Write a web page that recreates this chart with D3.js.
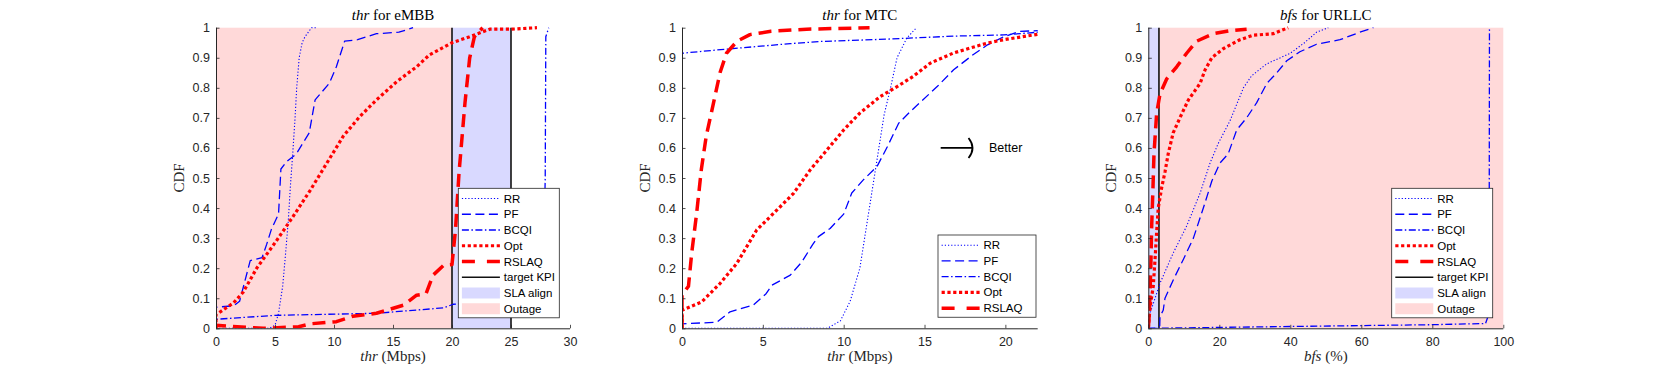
<!DOCTYPE html>
<html><head><meta charset="utf-8">
<script src="https://cdn.jsdelivr.net/npm/d3@7/dist/d3.min.js"></script>
<style>body{margin:0;background:#fff}svg{display:block}</style>
</head><body><svg id="c" width="1661" height="369"></svg>
<script>
// ---------- shared ----------
const yTicks = [0,0.1,0.2,0.3,0.4,0.5,0.6,0.7,0.8,0.9,1];
const yTickLabels = ["0","0.1","0.2","0.3","0.4","0.5","0.6","0.7","0.8","0.9","1"];
const seriesNames = ["RR","PF","BCQI","Opt","RSLAQ"];

// ---------- eMBB (thr, Mbps) ----------
const embbXTicks = [0,5,10,15,20,25,30];
const embbRR = [[0,0],[4.5,0],[5,0.01],[5.3,0.05],[5.65,0.14],[5.9,0.25],[6.13,0.36],[6.3,0.47],[6.5,0.58],[6.7,0.7],[6.84,0.8],[7.05,0.9],[7.3,0.95],[7.54,0.97],[8.1,1.0],[8.5,1.0]];
const embbPF = [[0,0],[0,0.07],[1.5,0.075],[2.0,0.09],[2.4,0.15],[2.9,0.225],[3.9,0.235],[4.3,0.28],[4.7,0.33],[5.3,0.38],[5.5,0.53],[6.0,0.555],[6.8,0.58],[7.9,0.65],[8.4,0.76],[9.6,0.815],[10.2,0.87],[10.9,0.955],[12,0.96],[13.6,0.98],[15.5,0.985],[16.7,1.0]];
const embbBCQI = [[0,0],[0,0.03],[5,0.043],[13.6,0.05],[19.3,0.068],[20.1,0.08],[24,0.09],[27.7,0.1],[27.9,0.5],[27.95,0.97],[28.2,1.0]];
const embbOpt = [[0,0.02],[0,0.045],[1.5,0.085],[2.3,0.12],[3.45,0.2],[5.1,0.29],[6.5,0.37],[8,0.46],[9.4,0.55],[10.8,0.64],[12.2,0.705],[13.6,0.76],[15.3,0.82],[17,0.87],[18.1,0.91],[20,0.95],[21.5,0.97],[23.2,0.995],[25,0.995],[27.2,1.0]];
const embbRSLAQ = [[0,0],[0,0.01],[4,0.0],[7,0.005],[8,0.015],[10.2,0.022],[11.6,0.04],[13.6,0.05],[15.9,0.077],[17,0.11],[17.8,0.115],[18.4,0.177],[19.3,0.21],[20,0.212],[20.3,0.33],[20.6,0.52],[21.1,0.75],[21.5,0.9],[21.9,0.97],[22.6,1.0]];
const embbOutage = [0,20];
const embbSLA = [20,25];
const embbKPI = [20,25];

// ---------- MTC (thr, Mbps) ----------
const mtcXTicks = [0,5,10,15,20];
const mtcRR = [[0,0],[9,0],[9.8,0.025],[10.4,0.09],[11,0.2],[11.5,0.37],[12.06,0.56],[12.5,0.71],[12.9,0.8],[13.3,0.9],[13.9,0.965],[14.5,1.0]];
const mtcPF = [[0,0],[0,0.015],[2.15,0.02],[2.97,0.055],[4.4,0.077],[5.2,0.115],[5.55,0.143],[6.7,0.177],[7.4,0.22],[8.1,0.28],[8.44,0.305],[9.16,0.332],[10.0,0.38],[10.5,0.45],[11.2,0.493],[12.06,0.538],[12.7,0.604],[13.4,0.682],[14.1,0.72],[14.7,0.75],[15.8,0.805],[16.8,0.86],[18.0,0.91],[18.9,0.943],[19.9,0.97],[20.9,0.988],[22,0.99]];
const mtcBCQI = [[0,0],[0,0.915],[2.8,0.929],[6.7,0.947],[8.5,0.954],[12.7,0.962],[16.8,0.972],[19.9,0.976],[22,0.985]];
const mtcOpt = [[0,0],[0,0.06],[1.22,0.088],[2.35,0.149],[3.39,0.216],[4.62,0.327],[5.86,0.393],[6.9,0.449],[7.93,0.527],[8.96,0.593],[10.0,0.66],[11.0,0.716],[12.26,0.771],[13.3,0.804],[14.3,0.838],[15.35,0.882],[16.8,0.916],[17.8,0.932],[18.9,0.949],[19.9,0.96],[22,0.978]];
const mtcRSLAQ = [[0,0],[0,0.11],[0.4,0.14],[0.6,0.25],[0.9,0.38],[1.2,0.53],[1.5,0.64],[1.95,0.75],[2.35,0.85],[2.75,0.915],[3.4,0.955],[4.2,0.977],[5.5,0.988],[7.7,0.995],[11.6,1.0]];
const mtcArrow = [[16,0.6],[18,0.6]];
const mtcArrowText = "Better";

// ---------- URLLC (bfs, %) ----------
const urllcXTicks = [0,20,40,60,80,100];
const urllcRR = [[0,0],[0.5,0.05],[1.9,0.1],[3.3,0.15],[7,0.25],[10.8,0.34],[14.6,0.45],[17.4,0.55],[19.7,0.615],[23,0.69],[26.8,0.8],[29.1,0.84],[33.4,0.88],[40,0.915],[44,0.95],[47.4,0.985],[50.7,1.0]];
const urllcPF = [[0,0],[3.2,0],[3.3,0.04],[4.2,0.06],[4.7,0.1],[7,0.16],[9.9,0.23],[12.7,0.3],[15.5,0.4],[17.9,0.49],[20.2,0.55],[22.5,0.58],[24.9,0.66],[27.7,0.7],[30.5,0.75],[33.4,0.815],[36.2,0.85],[39,0.89],[42.7,0.92],[47.4,0.945],[54,0.96],[59.6,0.985],[63.4,1.0]];
const urllcBCQI = [[0,0],[20,0.003],[40,0.006],[60,0.009],[80,0.012],[95,0.016],[96,0.05],[96.1,1.0]];
const urllcOpt = [[0,0],[0.5,0.07],[1.4,0.14],[1.9,0.23],[2.35,0.32],[2.8,0.4],[3.8,0.47],[4.7,0.52],[5.6,0.58],[7,0.65],[8.9,0.7],[11.3,0.76],[14.6,0.815],[16,0.86],[17.9,0.9],[21.1,0.93],[25.8,0.96],[29.6,0.975],[35.2,0.98],[39.4,1.0]];
const urllcRSLAQ = [[0,0],[0.3,0.05],[0.7,0.2],[0.95,0.34],[1.3,0.46],[1.6,0.58],[2.35,0.715],[3.3,0.78],[5.2,0.83],[8,0.87],[10.8,0.915],[13.6,0.955],[18.3,0.98],[23,0.99],[27.7,0.995]];
const urllcSLA = [0,3];
const urllcOutage = [3,100];
const urllcKPI = [3];

// ---------- styles ----------
const styles = {
  RR:    {color:"#0000ff", width:1.1, dash:"1.2,2",        ldash:"1.2,2"},
  PF:    {color:"#0000ff", width:1.3, dash:"9,4.5",        ldash:"9,4.5"},
  BCQI:  {color:"#0000ff", width:1.3, dash:"7,2.5,1.5,2.5", ldash:"7,2.5,1.5,2.5"},
  Opt:   {color:"#ff0000", width:3.2, dash:"3.2,2.6",      ldash:"3.2,2.6"},
  RSLAQ: {color:"#ff0000", width:3.5, dash:"13,7",         ldash:"13,12"}
};
const OUT_COL = "#ffd9d9", SLA_COL = "#d9d9ff", AX_COL = "#262626";
const SANS = "'Liberation Sans', Arial, Helvetica, sans-serif";
const SERIF = "'Liberation Serif', 'Times New Roman', serif";
const TICK_FS = "12.5px", LEG_FS = "11.5px";

const panels = [
  {left:216, right:570, xmax:30, xTicks:embbXTicks, titleVar:"thr", titleRest:" for eMBB",
   xVar:"thr", xRest:" (Mbps)",
   data:[embbRR,embbPF,embbBCQI,embbOpt,embbRSLAQ],
   outage:embbOutage, sla:embbSLA, kpi:embbKPI,
   legend:{x:458.3, y:188.3, w:101, full:true}},
  {left:682, right:1037.7, xmax:22, xTicks:mtcXTicks, titleVar:"thr", titleRest:" for MTC",
   xVar:"thr", xRest:" (Mbps)",
   data:[mtcRR,mtcPF,mtcBCQI,mtcOpt,mtcRSLAQ],
   legend:{x:938, y:235, w:98, full:false}, arrow:true},
  {left:1148.3, right:1503.3, xmax:100, xTicks:urllcXTicks, titleVar:"bfs", titleRest:" for URLLC",
   xVar:"bfs", xRest:" (%)",
   data:[urllcRR,urllcPF,urllcBCQI,urllcOpt,urllcRSLAQ],
   outage:urllcOutage, sla:urllcSLA, kpi:urllcKPI,
   legend:{x:1391.7, y:188.3, w:101, full:true}}
];

const svg = d3.select("#c");
const TOP = 27.7, BOT = 328.3;

panels.forEach((p, pi) => {
  const x = d3.scaleLinear().domain([0, p.xmax]).range([p.left, p.right]);
  const y = d3.scaleLinear().domain([0, 1]).range([BOT, TOP]);
  const g = svg.append("g");
  const clipId = "clip" + pi;
  svg.append("clipPath").attr("id", clipId).append("rect")
    .attr("x", p.left).attr("y", TOP - 3).attr("width", p.right - p.left + 3).attr("height", BOT - TOP + 3);

  if (p.outage) g.append("rect").attr("x", x(p.outage[0])).attr("y", y(1))
      .attr("width", x(p.outage[1]) - x(p.outage[0])).attr("height", y(0) - y(1)).attr("fill", OUT_COL);
  if (p.sla) g.append("rect").attr("x", x(p.sla[0])).attr("y", y(1))
      .attr("width", x(p.sla[1]) - x(p.sla[0])).attr("height", y(0) - y(1)).attr("fill", SLA_COL);
  if (p.kpi) p.kpi.forEach(k => g.append("line").attr("x1", x(k)).attr("x2", x(k))
      .attr("y1", y(0)).attr("y2", y(1)).attr("stroke", "#111").attr("stroke-width", 1.6));

  const line = d3.line().x(d => x(d[0])).y(d => y(d[1]));
  const cg = g.append("g").attr("clip-path", `url(#${clipId})`);
  p.data.forEach((ser, i) => {
    const st = styles[seriesNames[i]];
    cg.append("path").datum(ser).attr("d", line).attr("fill", "none")
      .attr("stroke", st.color).attr("stroke-width", st.width)
      .attr("stroke-dasharray", st.dash).attr("stroke-linejoin", "round");
  });

  const ax = g.append("g").attr("transform", `translate(0,${BOT})`)
    .call(d3.axisBottom(x).tickValues(p.xTicks).tickSize(-3.5).tickPadding(9).tickFormat(d3.format("d")));
  const ay = g.append("g").attr("transform", `translate(${p.left},0)`)
    .call(d3.axisLeft(y).tickValues(yTicks).tickSize(-3.5).tickPadding(6).tickFormat((d,i) => yTickLabels[i]));
  [ax, ay].forEach(a => {
    a.select(".domain").attr("stroke", AX_COL).attr("stroke-width", 1);
    a.selectAll(".tick line").attr("stroke", AX_COL).attr("stroke-width", 0.8);
    a.selectAll(".tick text").attr("fill", AX_COL).style("font-family", SANS).style("font-size", TICK_FS);
  });
  ay.select(".domain").attr("d", `M0.5,${BOT}V${TOP}`);
  ax.select(".domain").attr("d", `M${p.left},0.5H${p.right}`);

  const cx = (p.left + p.right) / 2;
  const t = svg.append("text").attr("x", cx).attr("y", 19.5).attr("text-anchor", "middle")
    .style("font-family", SERIF).style("font-size", "15px").attr("fill", "#000");
  t.append("tspan").style("font-style", "italic").text(p.titleVar);
  t.append("tspan").text(p.titleRest);
  const xl = svg.append("text").attr("x", cx).attr("y", 361).attr("text-anchor", "middle")
    .style("font-family", SERIF).style("font-size", "15px").attr("fill", AX_COL);
  xl.append("tspan").style("font-style", "italic").text(p.xVar);
  xl.append("tspan").text(p.xRest);
  svg.append("text").attr("transform", `translate(${p.left - 37},${(TOP + BOT) / 2}) rotate(-90)`)
    .attr("text-anchor", "middle").attr("dominant-baseline", "central")
    .style("font-family", SERIF).style("font-size", "15px").attr("fill", AX_COL).text("CDF");

  if (p.arrow) {
    const x0 = x(mtcArrow[0][0]), x1 = x(mtcArrow[1][0]), yy = y(mtcArrow[0][1]);
    svg.append("line").attr("x1", x0).attr("x2", x1 - 0.5).attr("y1", yy).attr("y2", yy)
      .attr("stroke", "#000").attr("stroke-width", 1.8);
    svg.append("path").attr("d", `M${x1 - 4.5},${yy - 10} Q${x1 + 3.5},${yy} ${x1 - 4.5},${yy + 10}`)
      .attr("fill", "none").attr("stroke", "#000").attr("stroke-width", 1.8);
    svg.append("text").attr("x", x1 + 16).attr("y", yy).attr("dominant-baseline", "central")
      .style("font-family", SANS).style("font-size", "12.5px").attr("fill", "#000").text(mtcArrowText);
  }

  const L = p.legend;
  const items = seriesNames.map(n => ({name:n, type:"line", st:styles[n]}));
  if (L.full) {
    items.push({name:"target KPI", type:"kpi"});
    items.push({name:"SLA align", type:"patch", fill:SLA_COL});
    items.push({name:"Outage", type:"patch", fill:OUT_COL});
  }
  const rowH = 15.75;
  const h = items.length * rowH + 3.5;
  const lg = svg.append("g");
  lg.append("rect").attr("x", L.x).attr("y", L.y).attr("width", L.w).attr("height", h)
    .attr("fill", "#fff").attr("stroke", AX_COL).attr("stroke-width", 0.8);
  items.forEach((it, i) => {
    const cy = L.y + 10.2 + i * rowH;
    const sx0 = L.x + 3.6, sx1 = L.x + 41.6;
    if (it.type === "line") {
      lg.append("line").attr("x1", sx0).attr("x2", sx1).attr("y1", cy).attr("y2", cy)
        .attr("stroke", it.st.color).attr("stroke-width", it.st.width).attr("stroke-dasharray", it.st.ldash);
    } else if (it.type === "kpi") {
      lg.append("line").attr("x1", sx0).attr("x2", sx1).attr("y1", cy).attr("y2", cy)
        .attr("stroke", "#111").attr("stroke-width", 1.6);
    } else {
      lg.append("rect").attr("x", sx0).attr("y", cy - 5.5).attr("width", sx1 - sx0).attr("height", 11)
        .attr("fill", it.fill);
    }
    lg.append("text").attr("x", L.x + 45.5).attr("y", cy).attr("dominant-baseline", "central")
      .style("font-family", SANS).style("font-size", LEG_FS).attr("fill", "#000").text(it.name);
  });
});
</script>
</body></html>
